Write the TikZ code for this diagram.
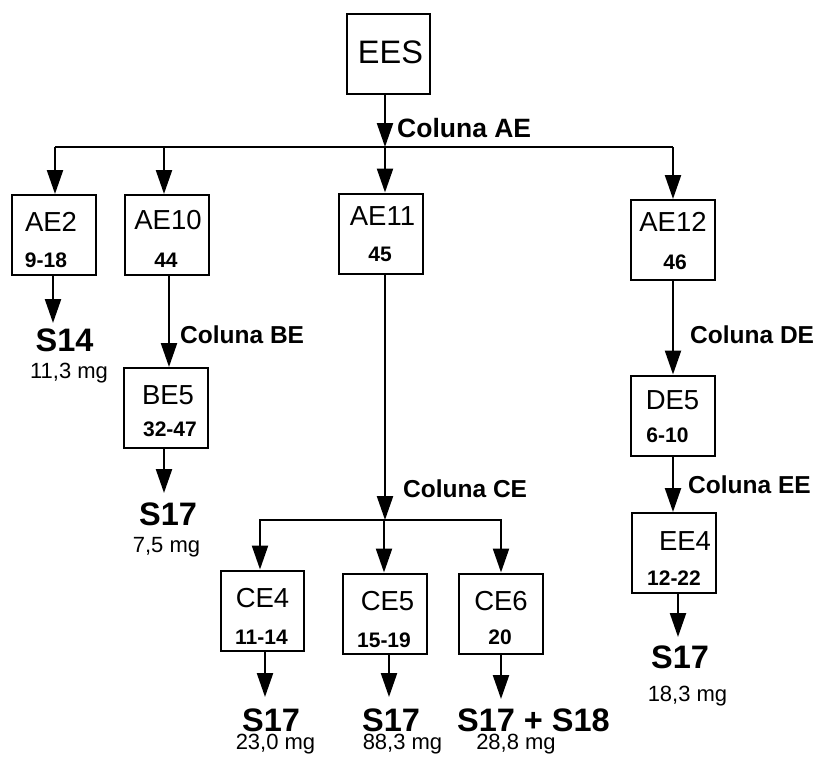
\documentclass[tikz,border=0pt]{standalone}
\usepackage{fontspec}
\setmainfont{Liberation Sans}
\usetikzlibrary{arrows.meta}

\tikzset{
  fbox/.style={draw, line width=2pt, minimum width=84pt, minimum height=80pt, inner sep=0pt},
  bname/.style={anchor=base, inner sep=0pt, font=\fontsize{27.5}{30}\selectfont},
  bnum/.style={anchor=base, inner sep=0pt, font=\bfseries\fontsize{21}{24}\selectfont},
  prod/.style={anchor=base, inner sep=0pt, font=\bfseries\fontsize{32.5}{35}\selectfont},
  mass/.style={anchor=base, inner sep=0pt, font=\fontsize{22}{24}\selectfont},
  col/.style={anchor=base west, inner sep=0pt, font=\bfseries\fontsize{24.5}{27}\selectfont},
  wire/.style={line width=2.3pt},
  arr/.style={line width=2.3pt, -{Triangle[length=24pt, width=16pt]}}
}

\begin{document}
\begin{tikzpicture}[x=1pt, y=-1pt]
\useasboundingbox (0,0) rectangle (816,758);

% boxes
\node[fbox, minimum width=83pt] (ees) at (388.5,54) {};
\node[fbox] (ae2)  at (54,235)    {};
\node[fbox] (ae10) at (166.5,235) {};
\node[fbox] (ae11) at (380.5,233.5) {};
\node[fbox] (ae12) at (673,240)   {};
\node[fbox] (be5)  at (166,408)   {};
\node[fbox] (de5)  at (673,415.5) {};
\node[fbox] (ee4)  at (674,553)   {};
\node[fbox, minimum width=83pt] (ce4) at (262.5,610.5) {};
\node[fbox] (ce5)  at (385,613.5) {};
\node[fbox] (ce6)  at (501,613.5) {};

% box texts
\node[anchor=base, inner sep=0pt, font=\fontsize{32.5}{36}\selectfont] (tees) at (390.5,63) {EES};
\node[bname] (tae2)  at (51,231)   {AE2};
\node[bnum]  (nae2)  at (46,267)   {9-18};
\node[bname] (tae10) at (168,229)  {AE10};
\node[bnum]  (nae10) at (166,267)  {44};
\node[bname] (tae11) at (382.5,225) {AE11};
\node[bnum]  (nae11) at (380,261)  {45};
\node[bname] (tae12) at (673,231)  {AE12};
\node[bnum]  (nae12) at (675,269)  {46};
\node[bname] (tbe5)  at (168,404)  {BE5};
\node[bnum]  (nbe5)  at (170,436)  {32-47};
\node[bname] (tde5)  at (672.5,409) {DE5};
\node[bnum]  (nde5)  at (667.5,442) {6-10};
\node[bname] (tee4)  at (685,550)  {EE4};
\node[bnum]  (nee4)  at (674,585)  {12-22};
\node[bname] (tce4)  at (262.5,607) {CE4};
\node[bnum]  (nce4)  at (261.5,644) {11-14};
\node[bname] (tce5)  at (387.5,610) {CE5};
\node[bnum]  (nce5)  at (384,647)  {15-19};
\node[bname] (tce6)  at (501,610)  {CE6};
\node[bnum]  (nce6)  at (500,644)  {20};

% column labels
\node[col, font=\bfseries\fontsize{26.5}{29}\selectfont] (cae) at (397,137) {Coluna AE};
\node[col] (cbe) at (180,343) {Coluna BE};
\node[col] (cce) at (403,497) {Coluna CE};
\node[col] (cde) at (690,343) {Coluna DE};
\node[col] (cee) at (688,493) {Coluna EE};

% products and masses
\node[prod] (s14)  at (64.5,351) {S14};
\node[mass] (m14)  at (69,378)   {11,3 mg};
\node[prod] (sbe)  at (168,525)  {S17};
\node[mass] (mbe)  at (166.5,552) {7,5 mg};
\node[prod] (sce4) at (271,731)  {S17};
\node[mass] (mce4) at (275.5,749) {23,0 mg};
\node[prod] (sce5) at (391,731)  {S17};
\node[mass] (mce5) at (402.5,749) {88,3 mg};
\node[prod] (sce6) at (533.5,731) {S17 + S18};
\node[mass] (mce6) at (516,749)  {28,8 mg};
\node[prod] (see4) at (680,668)  {S17};
\node[mass] (mee4) at (687.5,701) {18,3 mg};

% junction points
\coordinate (ja)  at (385,147);
\coordinate (jl)  at (55,147);
\coordinate (jb)  at (164,147);
\coordinate (jr)  at (673,147);
\coordinate (jc)  at (385,520);
\coordinate (jcl) at (260,520);
\coordinate (jcm) at (384,520);
\coordinate (jcr) at (501,520);

% column AE
\draw[arr] (ja |- ees.south) -- (ja);
\draw[wire] (jl) -- (jr);
\draw[arr] (jl) -- (jl |- ae2.north);
\draw[arr] (jb) -- (jb |- ae10.north);
\draw[arr] (ja) -- (ja |- ae11.north);
\draw[arr] (jr) -- (jr |- ae12.north);

% AE2 and AE10 branches
\draw[arr] (53,0 |- ae2.south) -- (53,323);
\draw[arr] (169,0 |- ae10.south) -- (169,0 |- be5.north);
\draw[arr] (164,0 |- be5.south) -- (164,493);

% AE11 branch, column CE
\draw[arr] (ja |- ae11.south) -- (jc);
\draw[wire] (259,520) -- (502,520);
\draw[arr] (jcl) -- (jcl |- ce4.north);
\draw[arr] (jcm) -- (jcm |- ce5.north);
\draw[arr] (jcr) -- (jcr |- ce6.north);
\draw[arr] (265,0 |- ce4.south) -- (265,697);
\draw[arr] (389,0 |- ce5.south) -- (389,697);
\draw[arr] (501,0 |- ce6.south) -- (501,699);

% AE12 branch, columns DE and EE
\draw[arr] (jr |- ae12.south) -- (jr |- de5.north);
\draw[arr] (jr |- de5.south) -- (jr |- ee4.north);
\draw[arr] (678,0 |- ee4.south) -- (678,637);
\end{tikzpicture}
\end{document}
